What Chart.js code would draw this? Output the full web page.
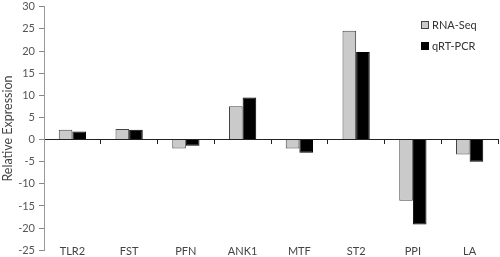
<!DOCTYPE html>
<html>
<head>
    <title>Relative Expression</title>
    <script src="https://cdn.jsdelivr.net/npm/chart.js"></script>
    <style>
        body {
            margin: 0;
            background-color: white;
            font-family: Lato, sans-serif;
        }
        .chart-container {
            position: relative;
            width: 500px;
            height: 257px;
        }
        .legend {
            position: absolute;
            left: 421px;
            top: 14px;
            font-size: 11px;
            color: #333;
            line-height: 21px;
        }
        .legend span.box {
            display: inline-block;
            width: 6px;
            height: 6px;
            margin-right: 3px;
            vertical-align: 0px;
        }
    </style>
</head>
<body>
    <div class="chart-container">
        <canvas id="exprChart"></canvas>
        <div class="legend">
            <div><span class="box" style="background:#cacaca;border:1px solid #444;"></span>RNA-Seq</div>
            <div><span class="box" style="background:#000;border:1px solid #000;"></span>qRT-PCR</div>
        </div>
    </div>

    <script>
        // Data
        const genes = ['TLR2', 'FST', 'PFN', 'ANK1', 'MTF', 'ST2', 'PPI', 'LA'];
        const rnaSeq = [2.2, 2.4, -2.0, 7.5, -2.0, 24.6, -13.8, -3.4];
        const qrtPcr = [1.8, 2.2, -1.4, 9.5, -3.0, 19.8, -19.2, -5.0];

        const tickFont = { family: 'Lato', size: 11 };

        const ctx = document.getElementById('exprChart').getContext('2d');
        new Chart(ctx, {
            type: 'bar',
            data: {
                labels: genes,
                datasets: [{
                    label: 'RNA-Seq',
                    data: rnaSeq,
                    backgroundColor: '#cacaca',
                    borderColor: '#444',
                    borderWidth: 1,
                    categoryPercentage: 0.48,
                    barPercentage: 1.0
                }, {
                    label: 'qRT-PCR',
                    data: qrtPcr,
                    backgroundColor: '#000',
                    borderColor: '#000',
                    borderWidth: 1,
                    categoryPercentage: 0.48,
                    barPercentage: 1.0
                }]
            },
            options: {
                responsive: true,
                maintainAspectRatio: false,
                animation: false,
                layout: { padding: { top: 6, right: 2, bottom: 6, left: 0 } },
                plugins: {
                    legend: { display: false },
                    tooltip: { enabled: false }
                },
                scales: {
                    x: {
                        // gene names sit near the bottom of the plot, like the original
                        position: { y: -21.5 },
                        grid: { display: false },
                        border: { display: false },
                        ticks: { font: tickFont, color: '#444', padding: 2 }
                    },
                    x0: {
                        // zero line with small category tick marks
                        type: 'category',
                        position: { y: 0 },
                        grid: { drawOnChartArea: false, tickLength: 4, color: '#222', offset: true },
                        border: { display: true, color: '#222', width: 1 },
                        ticks: { display: false }
                    },
                    y: {
                        min: -25,
                        max: 30,
                        // small lineHeight so the end labels don't push the plot inward
                        ticks: { stepSize: 5, font: { family: 'Lato', size: 11, lineHeight: 0.5 }, color: '#555', padding: 4 },
                        grid: { drawOnChartArea: false, tickLength: 5, color: '#888' },
                        border: { display: true, color: '#999' },
                        title: {
                            display: true,
                            text: 'Relative Expression',
                            font: { family: 'Lato', size: 12.5 },
                            color: '#444',
                            padding: { top: 0, bottom: 4 }
                        },
                        afterFit: function(scale) { scale.width = 44; }
                    }
                }
            }
        });
    </script>
</body>
</html>
